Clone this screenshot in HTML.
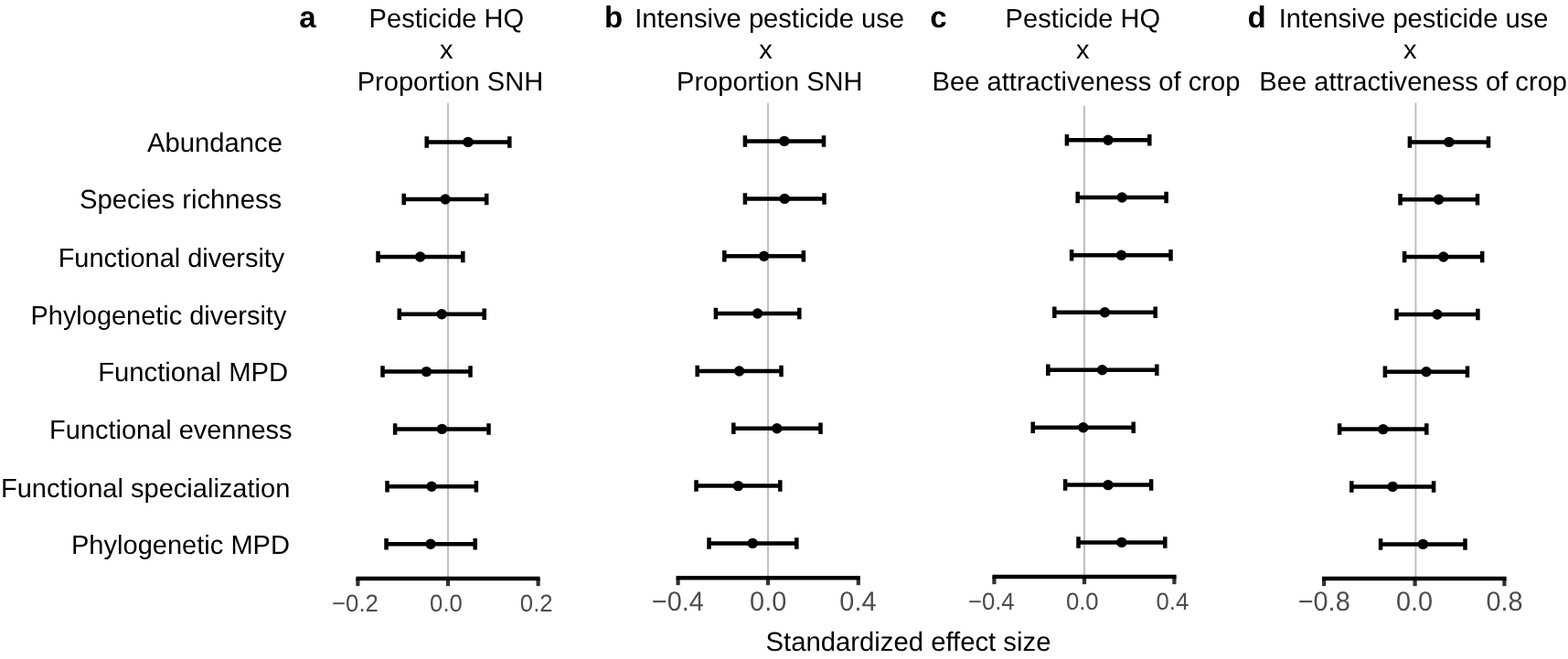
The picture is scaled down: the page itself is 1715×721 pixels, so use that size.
<!DOCTYPE html>
<html lang="en">
<head>
<meta charset="utf-8">
<title>Standardized effect size</title>
<style>
html,body{margin:0;padding:0;background:#fff;}
body{width:1715px;height:721px;overflow:hidden;}
svg{display:block;}
text{font-family:"Liberation Sans", Arial, Helvetica, sans-serif;white-space:pre;text-rendering:geometricPrecision;}
</style>
</head>
<body>
<svg role="img" aria-label="Standardized effect size forest plots" width="1715" height="721" viewBox="0 0 1715 721">
<rect x="0" y="0" width="1715" height="721" fill="#ffffff"/>
<g id="panel-a">
<line x1="490.0" x2="490.0" y1="112.6" y2="633.0" stroke="#c2c2c2" stroke-width="2.2"/>
<path d="M466.7 155.4H557.3M466.7 149.15V161.65M557.3 149.15V161.65" stroke="#000" stroke-width="4.5" fill="none"/><circle cx="512.0" cy="155.4" r="5.7" fill="#000"/>
<path d="M441.7 218.0H532.2M441.7 211.75V224.25M532.2 211.75V224.25" stroke="#000" stroke-width="4.5" fill="none"/><circle cx="487.1" cy="218.0" r="5.7" fill="#000"/>
<path d="M413.5 281.0H506.3M413.5 274.75V287.25M506.3 274.75V287.25" stroke="#000" stroke-width="4.5" fill="none"/><circle cx="459.6" cy="281.0" r="5.7" fill="#000"/>
<path d="M436.8 343.8H529.7M436.8 337.55V350.05M529.7 337.55V350.05" stroke="#000" stroke-width="4.5" fill="none"/><circle cx="483.2" cy="343.8" r="5.7" fill="#000"/>
<path d="M418.5 406.6H514.5M418.5 400.35V412.85M514.5 400.35V412.85" stroke="#000" stroke-width="4.5" fill="none"/><circle cx="466.4" cy="406.6" r="5.7" fill="#000"/>
<path d="M432.1 469.4H534.5M432.1 463.15V475.65M534.5 463.15V475.65" stroke="#000" stroke-width="4.5" fill="none"/><circle cx="483.4" cy="469.4" r="5.7" fill="#000"/>
<path d="M423.5 532.2H520.9M423.5 525.95V538.45M520.9 525.95V538.45" stroke="#000" stroke-width="4.5" fill="none"/><circle cx="472.1" cy="532.2" r="5.7" fill="#000"/>
<path d="M422.5 595.2H519.7M422.5 588.95V601.45M519.7 588.95V601.45" stroke="#000" stroke-width="4.5" fill="none"/><circle cx="471.0" cy="595.2" r="5.7" fill="#000"/>
<line x1="391.4" x2="391.4" y1="633.0" y2="641.2" stroke="#333" stroke-width="4.2"/>
<line x1="490.0" x2="490.0" y1="633.0" y2="641.2" stroke="#333" stroke-width="4.2"/>
<line x1="588.6" x2="588.6" y1="633.0" y2="641.2" stroke="#333" stroke-width="4.2"/>
<line x1="389.4" x2="590.6" y1="633.0" y2="633.0" stroke="#000" stroke-width="4.5"/>
</g>
<g id="panel-b">
<line x1="840.0" x2="840.0" y1="112.6" y2="632.2" stroke="#c2c2c2" stroke-width="2.2"/>
<path d="M814.9 154.4H901.0M814.9 148.15V160.65M901.0 148.15V160.65" stroke="#000" stroke-width="4.5" fill="none"/><circle cx="857.8" cy="154.4" r="5.7" fill="#000"/>
<path d="M814.9 217.4H901.5M814.9 211.15V223.65M901.5 211.15V223.65" stroke="#000" stroke-width="4.5" fill="none"/><circle cx="858.2" cy="217.4" r="5.7" fill="#000"/>
<path d="M792.3 280.2H878.9M792.3 273.95V286.45M878.9 273.95V286.45" stroke="#000" stroke-width="4.5" fill="none"/><circle cx="835.6" cy="280.2" r="5.7" fill="#000"/>
<path d="M782.9 343.0H874.3M782.9 336.75V349.25M874.3 336.75V349.25" stroke="#000" stroke-width="4.5" fill="none"/><circle cx="828.6" cy="343.0" r="5.7" fill="#000"/>
<path d="M762.7 406.0H854.5M762.7 399.75V412.25M854.5 399.75V412.25" stroke="#000" stroke-width="4.5" fill="none"/><circle cx="808.6" cy="406.0" r="5.7" fill="#000"/>
<path d="M802.3 468.8H897.5M802.3 462.55V475.05M897.5 462.55V475.05" stroke="#000" stroke-width="4.5" fill="none"/><circle cx="849.8" cy="468.8" r="5.7" fill="#000"/>
<path d="M761.5 531.6H853.3M761.5 525.35V537.85M853.3 525.35V537.85" stroke="#000" stroke-width="4.5" fill="none"/><circle cx="807.4" cy="531.6" r="5.7" fill="#000"/>
<path d="M775.5 594.4H871.3M775.5 588.15V600.65M871.3 588.15V600.65" stroke="#000" stroke-width="4.5" fill="none"/><circle cx="823.2" cy="594.4" r="5.7" fill="#000"/>
<line x1="741.6" x2="741.6" y1="632.2" y2="640.2" stroke="#333" stroke-width="4.2"/>
<line x1="840.0" x2="840.0" y1="632.2" y2="640.2" stroke="#333" stroke-width="4.2"/>
<line x1="938.8" x2="938.8" y1="632.2" y2="640.2" stroke="#333" stroke-width="4.2"/>
<line x1="739.6" x2="940.8" y1="632.2" y2="632.2" stroke="#000" stroke-width="4.5"/>
</g>
<g id="panel-c">
<line x1="1186.0" x2="1186.0" y1="115.6" y2="630.9" stroke="#c2c2c2" stroke-width="2.2"/>
<path d="M1166.9 153.2H1257.3M1166.9 146.95V159.45M1257.3 146.95V159.45" stroke="#000" stroke-width="4.5" fill="none"/><circle cx="1212.0" cy="153.2" r="5.7" fill="#000"/>
<path d="M1178.7 216.0H1275.6M1178.7 209.75V222.25M1275.6 209.75V222.25" stroke="#000" stroke-width="4.5" fill="none"/><circle cx="1227.2" cy="216.0" r="5.7" fill="#000"/>
<path d="M1172.1 279.2H1280.5M1172.1 272.95V285.45M1280.5 272.95V285.45" stroke="#000" stroke-width="4.5" fill="none"/><circle cx="1226.5" cy="279.2" r="5.7" fill="#000"/>
<path d="M1153.3 341.8H1263.7M1153.3 335.55V348.05M1263.7 335.55V348.05" stroke="#000" stroke-width="4.5" fill="none"/><circle cx="1208.4" cy="341.8" r="5.7" fill="#000"/>
<path d="M1146.3 404.8H1265.3M1146.3 398.55V411.05M1265.3 398.55V411.05" stroke="#000" stroke-width="4.5" fill="none"/><circle cx="1205.6" cy="404.8" r="5.7" fill="#000"/>
<path d="M1129.7 467.8H1239.7M1129.7 461.55V474.05M1239.7 461.55V474.05" stroke="#000" stroke-width="4.5" fill="none"/><circle cx="1184.8" cy="467.8" r="5.7" fill="#000"/>
<path d="M1165.1 530.6H1259.1M1165.1 524.35V536.85M1259.1 524.35V536.85" stroke="#000" stroke-width="4.5" fill="none"/><circle cx="1212.0" cy="530.6" r="5.7" fill="#000"/>
<path d="M1179.5 593.4H1274.3M1179.5 587.15V599.65M1274.3 587.15V599.65" stroke="#000" stroke-width="4.5" fill="none"/><circle cx="1226.8" cy="593.4" r="5.7" fill="#000"/>
<line x1="1087.4" x2="1087.4" y1="630.9" y2="639.2" stroke="#333" stroke-width="4.2"/>
<line x1="1186.0" x2="1186.0" y1="630.9" y2="639.2" stroke="#333" stroke-width="4.2"/>
<line x1="1284.4" x2="1284.4" y1="630.9" y2="639.2" stroke="#333" stroke-width="4.2"/>
<line x1="1085.4" x2="1286.6" y1="630.9" y2="630.9" stroke="#000" stroke-width="4.5"/>
</g>
<g id="panel-d">
<line x1="1548.4" x2="1548.4" y1="112.6" y2="633.05" stroke="#bfbfbf" stroke-width="2.0"/>
<path d="M1541.9 155.4H1628.0M1541.9 149.15V161.65M1628.0 149.15V161.65" stroke="#000" stroke-width="4.5" fill="none"/><circle cx="1584.8" cy="155.4" r="5.7" fill="#000"/>
<path d="M1531.5 218.2H1616.0M1531.5 211.95V224.45M1616.0 211.95V224.45" stroke="#000" stroke-width="4.5" fill="none"/><circle cx="1573.6" cy="218.2" r="5.7" fill="#000"/>
<path d="M1536.1 281.0H1621.2M1536.1 274.75V287.25M1621.2 274.75V287.25" stroke="#000" stroke-width="4.5" fill="none"/><circle cx="1578.8" cy="281.0" r="5.7" fill="#000"/>
<path d="M1527.5 344.0H1616.4M1527.5 337.75V350.25M1616.4 337.75V350.25" stroke="#000" stroke-width="4.5" fill="none"/><circle cx="1572.0" cy="344.0" r="5.7" fill="#000"/>
<path d="M1514.9 406.8H1605.0M1514.9 400.55V413.05M1605.0 400.55V413.05" stroke="#000" stroke-width="4.5" fill="none"/><circle cx="1560.0" cy="406.8" r="5.7" fill="#000"/>
<path d="M1465.1 469.6H1560.3M1465.1 463.35V475.85M1560.3 463.35V475.85" stroke="#000" stroke-width="4.5" fill="none"/><circle cx="1512.8" cy="469.6" r="5.7" fill="#000"/>
<path d="M1478.3 532.4H1568.1M1478.3 526.15V538.65M1568.1 526.15V538.65" stroke="#000" stroke-width="4.5" fill="none"/><circle cx="1523.2" cy="532.4" r="5.7" fill="#000"/>
<path d="M1510.1 595.4H1602.5M1510.1 589.15V601.65M1602.5 589.15V601.65" stroke="#000" stroke-width="4.5" fill="none"/><circle cx="1556.4" cy="595.4" r="5.7" fill="#000"/>
<line x1="1448.1" x2="1448.1" y1="633.05" y2="641.2" stroke="#333" stroke-width="4.2"/>
<line x1="1547.6" x2="1547.6" y1="633.05" y2="641.2" stroke="#333" stroke-width="4.2"/>
<line x1="1645.4" x2="1645.4" y1="633.05" y2="641.2" stroke="#333" stroke-width="4.2"/>
<line x1="1446.0" x2="1647.6" y1="633.05" y2="633.05" stroke="#000" stroke-width="4.5"/>
</g>
<g id="labels">
<text id="la" x="327.35" y="29.50" font-size="33.00" font-weight="bold" fill="#000">a</text>
<text id="lb" x="661.10" y="29.50" font-size="33.00" font-weight="bold" fill="#000">b</text>
<text id="lc" x="1017.35" y="29.50" font-size="33.00" font-weight="bold" fill="#000">c</text>
<text id="ld" x="1364.58" y="29.50" font-size="33.00" font-weight="bold" fill="#000">d</text>
<text id="ta1" x="403.62" y="29.60" font-size="29.05" font-weight="normal" fill="#000">Pesticide HQ</text>
<text id="ta2" x="481.05" y="64.40" font-size="29.05" font-weight="normal" fill="#000">x</text>
<text id="ta3" x="390.75" y="99.20" font-size="29.05" font-weight="normal" fill="#000">Proportion SNH</text>
<text id="tb1" x="694.17" y="29.60" font-size="29.15" font-weight="normal" fill="#000">Intensive pesticide use</text>
<text id="tb2" x="830.25" y="64.40" font-size="29.05" font-weight="normal" fill="#000">x</text>
<text id="tb3" x="740.05" y="99.20" font-size="29.05" font-weight="normal" fill="#000">Proportion SNH</text>
<text id="tc1" x="1099.62" y="29.60" font-size="29.05" font-weight="normal" fill="#000">Pesticide HQ</text>
<text id="tc2" x="1177.05" y="64.40" font-size="29.05" font-weight="normal" fill="#000">x</text>
<text id="tc3" x="1019.60" y="99.20" font-size="29.14" font-weight="normal" fill="#000">Bee attractiveness of crop</text>
<text id="td1" x="1398.67" y="29.60" font-size="29.15" font-weight="normal" fill="#000">Intensive pesticide use</text>
<text id="td2" x="1534.90" y="64.40" font-size="29.05" font-weight="normal" fill="#000">x</text>
<text id="td3" x="1377.30" y="99.10" font-size="29.14" font-weight="normal" fill="#000">Bee attractiveness of crop</text>
<text id="y1" x="161.03" y="166.20" font-size="29.24" font-weight="normal" fill="#000">Abundance</text>
<text id="y2" x="87.05" y="228.40" font-size="29.25" font-weight="normal" fill="#000">Species richness</text>
<text id="y3" x="63.65" y="291.95" font-size="28.95" font-weight="normal" fill="#000">Functional diversity</text>
<text id="y4" x="33.50" y="354.55" font-size="28.95" font-weight="normal" fill="#000">Phylogenetic diversity</text>
<text id="y5" x="107.17" y="416.80" font-size="29.25" font-weight="normal" fill="#000">Functional MPD</text>
<text id="y6" x="54.12" y="480.20" font-size="28.95" font-weight="normal" fill="#000">Functional evenness</text>
<text id="y7" x="0.90" y="543.50" font-size="29.05" font-weight="normal" fill="#000">Functional specialization</text>
<text id="y8" x="78.00" y="606.30" font-size="29.05" font-weight="normal" fill="#000">Phylogenetic MPD</text>
<text id="xa1" transform="translate(363.12 668.60) scale(1 1.03)" font-size="25.70" font-weight="normal" fill="#4d4d4d">−0.2</text>
<text id="xa2" transform="translate(470.12 668.60) scale(1 1.03)" font-size="25.70" font-weight="normal" fill="#4d4d4d">0.0</text>
<text id="xa3" transform="translate(568.85 668.60) scale(1 1.03)" font-size="25.70" font-weight="normal" fill="#4d4d4d">0.2</text>
<text id="xb1" transform="translate(712.83 667.50) scale(1 1.03)" font-size="28.90" font-weight="normal" fill="#4d4d4d">−0.4</text>
<text id="xb2" transform="translate(820.08 667.50) scale(1 1.03)" font-size="28.90" font-weight="normal" fill="#4d4d4d">0.0</text>
<text id="xb3" transform="translate(918.35 667.50) scale(1 1.03)" font-size="28.90" font-weight="normal" fill="#4d4d4d">0.4</text>
<text id="xc1" transform="translate(1058.88 666.60) scale(1 1.03)" font-size="25.70" font-weight="normal" fill="#4d4d4d">−0.4</text>
<text id="xc2" transform="translate(1165.92 666.60) scale(1 1.03)" font-size="25.70" font-weight="normal" fill="#4d4d4d">0.0</text>
<text id="xc3" transform="translate(1264.50 666.60) scale(1 1.03)" font-size="25.70" font-weight="normal" fill="#4d4d4d">0.4</text>
<text id="xd1" transform="translate(1419.67 667.90) scale(1 1.03)" font-size="28.90" font-weight="normal" fill="#4d4d4d">−0.8</text>
<text id="xd2" transform="translate(1526.88 667.90) scale(1 1.03)" font-size="28.90" font-weight="normal" fill="#4d4d4d">0.0</text>
<text id="xd3" transform="translate(1625.38 667.90) scale(1 1.03)" font-size="28.90" font-weight="normal" fill="#4d4d4d">0.8</text>
<text id="xl" x="837.60" y="712.00" font-size="29.28" font-weight="normal" fill="#000">Standardized effect size</text>
</g>
</svg>
</body>
</html>
